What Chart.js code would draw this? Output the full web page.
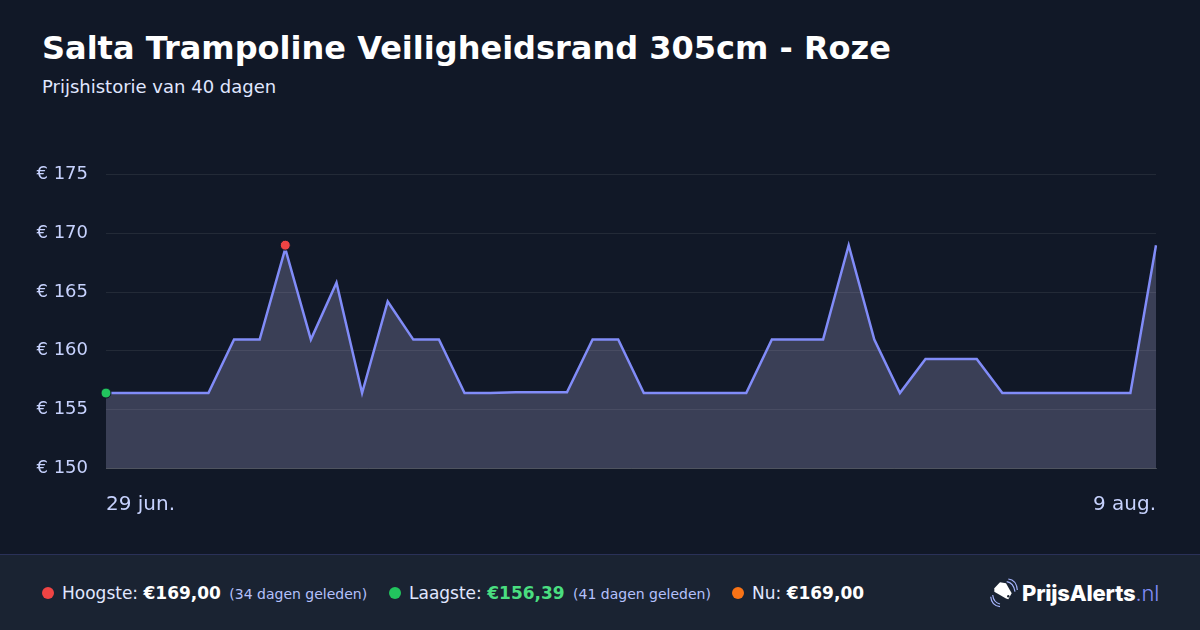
<!DOCTYPE html>
<html lang="nl">
<head>
<meta charset="utf-8">
<title>Salta Trampoline Veiligheidsrand 305cm - Roze</title>
<script src="https://cdn.jsdelivr.net/npm/chart.js@4/dist/chart.umd.min.js"></script>
<style>
    html, body { margin: 0; padding: 0; }
    body { width: 1200px; height: 630px; overflow: hidden; position: relative; background: #111827; font-family: "DejaVu Sans", sans-serif; }
    h1 { position: absolute; left: 42px; top: 29px; margin: 0; font-size: 32px; line-height: 38px; font-weight: 700; color: #fff; white-space: nowrap; }
    #subtitle { position: absolute; left: 42px; top: 76px; font-size: 18px; line-height: 22px; color: #e0e7ff; white-space: nowrap; }
    #chart-wrap { position: absolute; left: 0; top: 146px; width: 1200px; height: 384px; }
    #footer { position: absolute; left: 0; top: 554px; width: 1200px; height: 76px; background: #1a2332; border-top: 1px solid #2a3158; box-sizing: border-box; }
    .dot { position: absolute; top: 32px; width: 12px; height: 12px; border-radius: 50%; }
    .stat { position: absolute; top: 26px; line-height: 24px; font-size: 17px; color: #e0e7ff; white-space: nowrap; }
    .stat b { font-size: 17px; color: #fff; }
    .stat b.low { color: #4ade80; }
    .stat small { font-size: 14px; color: #b4c0fc; margin-left: 3px; }
    #logo { position: absolute; left: 989px; top: 22px; width: 32px; height: 32px; }
    #brand { position: absolute; left: 1022px; top: 25px; line-height: 26px; font-family: Inter, sans-serif; font-size: 22px; font-weight: 800; color: #fff; white-space: nowrap; letter-spacing: -0.2px; }
    #brand span { font-weight: 300; color: #818cf8; }
</style>
</head>
<body>
<h1 id="title"></h1>
<div id="subtitle"></div>
<div id="chart-wrap"><canvas id="price-chart"></canvas></div>
<div id="footer">
    <span class="dot" style="left:42px;background:#ef4444"></span>
    <div class="stat" style="left:62px">Hoogste: <b id="high"></b> <small id="high-age"></small></div>
    <span class="dot" style="left:389px;background:#22c55e"></span>
    <div class="stat" style="left:409px">Laagste: <b class="low" id="low"></b> <small id="low-age"></small></div>
    <span class="dot" style="left:732px;background:#f97316"></span>
    <div class="stat" style="left:752px">Nu: <b id="now"></b></div>
    <svg id="logo" viewBox="0 0 32 32" fill="none">
        <path d="M5.3 11.3 L11 5.3 L17 6.3 L22.7 16.3 L19.3 22.3 L17 21.5 L5.3 14.7 Z" fill="#fff"/>
        <circle cx="19.3" cy="19.2" r="1.2" fill="#1a2332"/>
        <path d="M17.7 4.7 Q24.5 5.5 26 14.7" stroke="#a5b4fc" stroke-width="1.2"/>
        <path d="M19.3 2 Q27.5 3 28.3 13" stroke="#a5b4fc" stroke-width="1.2"/>
        <path d="M3.7 18 Q4.5 25.5 11 27" stroke="#a5b4fc" stroke-width="1.2"/>
        <path d="M1.7 19.7 Q2.5 28.5 11 29.7" stroke="#a5b4fc" stroke-width="1.2"/>
    </svg>
    <div id="brand">PrijsAlerts<span>.nl</span></div>
</div>
<script>
const titleText = 'Salta Trampoline Veiligheidsrand 305cm - Roze';
const subtitleText = 'Prijshistorie van 40 dagen';

const dates = [
    '29 jun.', '30 jun.', '1 jul.', '2 jul.', '3 jul.', '4 jul.', '5 jul.', '6 jul.', '7 jul.', '8 jul.',
    '9 jul.', '10 jul.', '11 jul.', '12 jul.', '13 jul.', '14 jul.', '15 jul.', '16 jul.', '17 jul.', '18 jul.',
    '19 jul.', '20 jul.', '21 jul.', '22 jul.', '23 jul.', '24 jul.', '25 jul.', '26 jul.', '27 jul.', '28 jul.',
    '29 jul.', '30 jul.', '31 jul.', '1 aug.', '2 aug.', '3 aug.', '4 aug.', '5 aug.', '6 aug.', '7 aug.',
    '8 aug.', '9 aug.'
];
const prices = [
    156.39, 156.39, 156.39, 156.39, 156.39, 160.95, 160.95, 168.7, 160.95, 165.8,
    156.39, 164.2, 160.95, 160.95, 156.39, 156.39, 156.45, 156.45, 156.45, 160.95,
    160.95, 156.39, 156.39, 156.39, 156.39, 156.39, 160.95, 160.95, 160.95, 169.0,
    160.95, 156.39, 159.3, 159.3, 159.3, 156.39, 156.39, 156.39, 156.39, 156.39,
    156.39, 169.0
];
const highMarker = [{ x: '6 jul.', y: 169.0 }];
const lowMarker = [{ x: '29 jun.', y: 156.39 }];
const yTicks = [150, 155, 160, 165, 170, 175];

const highText = '€169,00';
const highAge = '(34 dagen geleden)';
const lowText = '€156,39';
const lowAge = '(41 dagen geleden)';
const nowText = '€169,00';

document.getElementById('title').textContent = titleText;
document.getElementById('subtitle').textContent = subtitleText;
document.getElementById('high').textContent = highText;
document.getElementById('high-age').textContent = highAge;
document.getElementById('low').textContent = lowText;
document.getElementById('low-age').textContent = lowAge;
document.getElementById('now').textContent = nowText;

new Chart(document.getElementById('price-chart').getContext('2d'), {
    type: 'line',
    data: {
        labels: dates,
        datasets: [{
            data: highMarker,
            pointRadius: 5,
            pointBackgroundColor: '#ef4444',
            pointBorderColor: '#111827',
            pointBorderWidth: 1,
            showLine: false,
            clip: false
        }, {
            data: lowMarker,
            pointRadius: 5,
            pointBackgroundColor: '#22c55e',
            pointBorderColor: '#111827',
            pointBorderWidth: 1,
            showLine: false,
            clip: false
        }, {
            data: prices,
            borderColor: '#818cf8',
            borderWidth: 2.5,
            backgroundColor: 'rgba(185, 180, 227, 0.25)',
            fill: 'origin',
            tension: 0,
            pointRadius: 0,
            borderJoinStyle: 'miter'
        }]
    },
    options: {
        responsive: true,
        maintainAspectRatio: false,
        animation: false,
        layout: { padding: { left: 0, right: 44, top: 20, bottom: 0 } },
        plugins: { legend: { display: false }, tooltip: { enabled: false } },
        scales: {
            x: {
                offset: false,
                grid: { display: false },
                border: { display: true, color: 'rgba(255, 255, 255, 0.2)' },
                ticks: {
                    color: '#c7d2fe',
                    font: { family: '"DejaVu Sans", sans-serif', size: 20 },
                    padding: 17,
                    align: 'inner',
                    maxRotation: 0,
                    autoSkip: false,
                    callback: (value, index) => (index === 0 || index === dates.length - 1) ? dates[index] : ''
                },
                afterFit: (axis) => { axis.height = 62; }
            },
            y: {
                min: yTicks[0],
                max: yTicks[yTicks.length - 1],
                afterBuildTicks: (axis) => { axis.ticks = yTicks.map(v => ({ value: v })); },
                afterFit: (axis) => { axis.width = 106; },
                grid: { color: 'rgba(255, 255, 255, 0.08)', drawTicks: false },
                border: { display: false },
                ticks: {
                    color: '#c7d2fe',
                    font: { family: '"DejaVu Sans", sans-serif', size: 18 },
                    padding: 18,
                    callback: (value) => '€ ' + value
                }
            }
        }
    }
});
</script>
</body>
</html>
